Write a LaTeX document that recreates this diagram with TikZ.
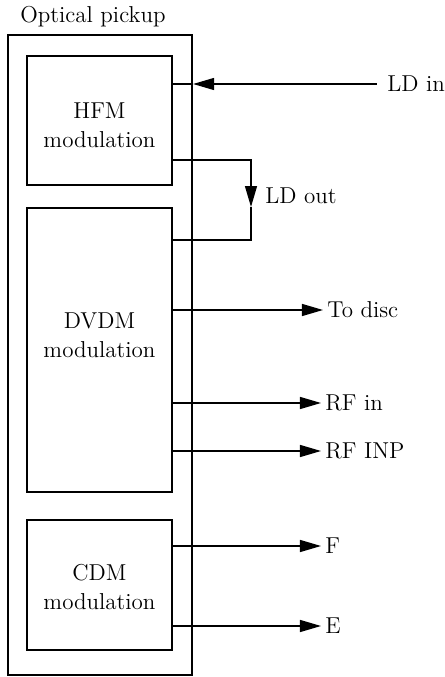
\documentclass[tikz,border=0pt]{standalone}
\usepackage{tikz}
\usetikzlibrary{positioning,arrows.meta}

\begin{document}
\begin{tikzpicture}[
  x=0.5pt,y=0.5pt,
  outerbox/.style={rectangle,draw,line width=1.1pt,minimum width=92pt,minimum height=320pt,inner sep=0pt},
  modbox/.style={rectangle,draw,line width=0.6pt,minimum width=72.5pt,inner sep=0pt},
  txt/.style={font=\fontsize{11.5}{14.5}\selectfont,align=center,inner sep=0pt},
  sig/.style={font=\fontsize{11.5}{14.5}\selectfont,inner sep=0pt,anchor=west},
  arr/.style={-{Triangle[length=10.5pt,width=6pt]},line width=0.6pt},
  ln/.style={line width=0.6pt},
]
\useasboundingbox (0,0) rectangle (445,677);

% Optical pickup
\node[outerbox] (pickup) at (100,322) {};
\node[font=\fontsize{11.5}{14.5}\selectfont,inner sep=0pt,anchor=base west] (title) at (20,654) {Optical pickup};

% Modulation blocks
\node[modbox,minimum height=64.5pt,label={[txt,yshift=-2.5pt]center:HFM\\modulation}] (hfm) at (99.5,556.5) {};
\node[modbox,minimum height=142pt,label={[txt,yshift=7.5pt]center:DVDM\\modulation}] (dvdm) at (99.5,327) {};
\node[modbox,minimum height=65pt,label={[txt,yshift=-1pt]center:CDM\\modulation}] (cdm) at (99.5,92) {};

% LD in
\node[sig] (ldin) at (387,593) {LD in};
\coordinate (ldtip) at (pickup.east |- ldin);
\draw[arr,shorten <=5pt] (ldin.west) -- (ldtip);
\draw[ln] (ldtip) -- (hfm.east |- ldin);

% LD out
\coordinate (ldout1) at (251,517);
\coordinate (ldoutarr) at (251,470);
\coordinate (ldout2) at (251,437);
\draw[arr] (hfm.east |- ldout1) -- (ldout1) -- (ldoutarr);
\draw[ln] (ldoutarr) -- (ldout2) -- (dvdm.east |- ldout2);
\node[sig] (ldout) at (265,481) {LD out};

% Outputs
\node[sig] (todisc) at (327,367) {To disc};
\node[sig] (rfin) at (325,274) {RF in};
\node[sig] (rfinp) at (325,226) {RF INP};
\node[sig] (f) at (325,131) {F};
\node[sig] (e) at (325,51) {E};

\draw[arr,shorten >=2pt] (dvdm.east |- todisc) -- (todisc.west);
\draw[arr,shorten >=2pt] (dvdm.east |- rfin) -- (rfin.west);
\draw[arr,shorten >=2pt] (dvdm.east |- rfinp) -- (rfinp.west);
\draw[arr,shorten >=2pt] (cdm.east |- f) -- (f.west);
\draw[arr,shorten >=2pt] (cdm.east |- e) -- (e.west);

\end{tikzpicture}
\end{document}
